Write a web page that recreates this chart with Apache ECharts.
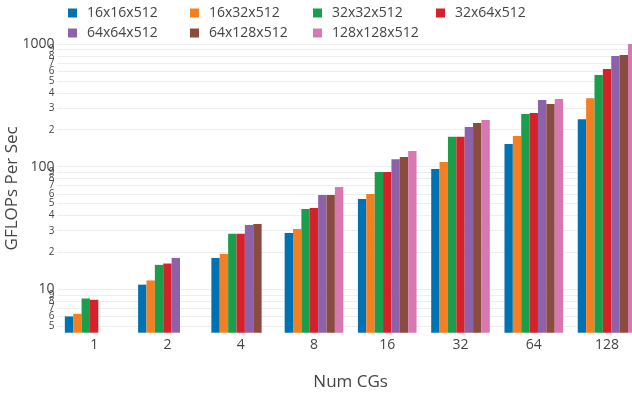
<!DOCTYPE html>
<html>
<head>
<meta charset="utf-8">
<script src="https://cdn.jsdelivr.net/npm/echarts@6/dist/echarts.min.js"></script>
<style>html,body{margin:0;padding:0;background:#fff}#c{width:632px;height:396px}</style>
</head>
<body>
<div id="c"></div>
<script>
const categories = ['1','2','4','8','16','32','64','128'];
const seriesNames = ['16x16x512','16x32x512','32x32x512','32x64x512','64x64x512','64x128x512','128x128x512'];
const s16x16 = [6.0, 10.9, 18.0, 28.8, 54.5, 95.7, 153, 244];
const s16x32 = [6.3, 11.8, 19.4, 31.0, 59.8, 109, 178, 362];
const s32x32 = [8.4, 15.8, 28.3, 45.2, 90.5, 175, 269, 558];
const s32x64 = [8.2, 16.2, 28.3, 46.0, 90.5, 175, 274, 625];
const s64x64 = [null, 18.0, 33.4, 58.7, 115, 210, 349, 798];
const s64x128 = [null, null, 34.1, 58.7, 120, 227, 324, 813];
const s128x128 = [null, null, null, 68.2, 134, 240, 356, 1000];
const yGridValues = [5,6,7,8,9,10,20,30,40,50,60,70,80,90,100,200,300,400,500,600,700,800,900,1000];
const yMajorTicks = [10, 100, 1000];
const yMinorTicksA = [6,8,20,40,60,80,200,400,600,800];
const yMinorTicksB = [5,7,9,30,50,70,90,300,500,700,900];
const colors = ['#0072b2','#f47f20','#1b9e4b','#d6202a','#8d62ab','#8a4c3e','#d878b2'];
const allData = [s16x16, s16x32, s32x32, s32x64, s64x64, s64x128, s128x128];

const font = 'Open Sans';
const chart = echarts.init(document.getElementById('c'));
const legendCols = [[0,4],[1,5],[2,6],[3]];
const legendLefts = [68, 190, 313, 436];
const legends = legendCols.map((idx, i) => ({
  orient: 'vertical', left: legendLefts[i], top: 6, itemGap: 6, padding: 0,
  itemWidth: 9, itemHeight: 9, icon: 'rect',
  data: idx.map(k => seriesNames[k]),
  textStyle: {fontFamily: font, fontSize: 14, color: '#444', padding: [0,0,0,5]}
}));
function minorFmt(v) {
  const e = Math.floor(Math.log10(v) + 1e-9);
  return String(Math.round(v / Math.pow(10, e)));
}
function majorFmt(v) {
  return String(Math.round(v));
}
function logAxis(labels, extra) {
  return Object.assign({
    type: 'log', logBase: 10, min: 4.42, max: 1000.5, position: 'left', offset: 0,
    axisLine: {show: false},
    axisTick: {show: false},
    splitLine: {show: false},
    axisLabel: {
      customValues: labels, margin: 3,
      showMinLabel: true, showMaxLabel: true, hideOverlap: false,
      color: '#444', fontFamily: font, fontSize: 10,
      formatter: minorFmt
    }
  }, extra || {});
}
chart.setOption({
  animation: false,
  color: colors,
  textStyle: {fontFamily: font},
  legend: legends,
  grid: {left: 57.5, right: -11.7, top: 44, bottom: 63.3, containLabel: false, outerBoundsMode: 'none'},
  xAxis: {
    type: 'category', data: categories,
    name: 'Num CGs', nameLocation: 'middle', nameGap: 41, nameMoveOverlap: false,
    nameTextStyle: {fontFamily: font, fontSize: 17, color: '#444'},
    axisLine: {show: false}, axisTick: {show: false},
    axisLabel: {fontFamily: font, fontSize: 14, color: '#444', margin: 5}
  },
  yAxis: [
    logAxis(yMajorTicks, {
      name: 'GFLOPs Per Sec', nameLocation: 'middle', nameGap: 37, nameMoveOverlap: false,
      nameTextStyle: {fontFamily: font, fontSize: 17, color: '#444'},
      axisTick: {show: false, customValues: yGridValues},
      splitLine: {show: true, lineStyle: {color: '#eeeeee', width: 1}},
      axisLabel: {
        customValues: yMajorTicks, margin: 3,
        showMinLabel: true, showMaxLabel: true, hideOverlap: false,
        color: '#444', fontFamily: font, fontSize: 14,
        formatter: majorFmt
      }
    }),
    logAxis(yMinorTicksA),
    logAxis(yMinorTicksB)
  ],
  series: allData.map((d, i) => ({
    name: seriesNames[i], type: 'bar', data: d, yAxisIndex: 0,
    barGap: '0%', barCategoryGap: '20%'
  }))
});
</script>
</body>
</html>
